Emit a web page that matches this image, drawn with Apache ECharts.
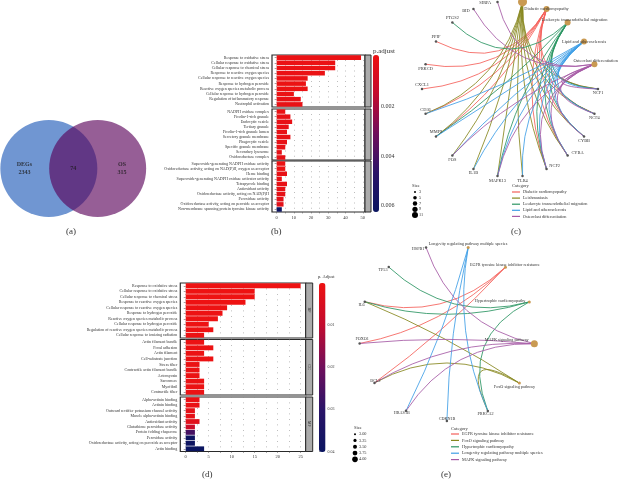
<!DOCTYPE html>
<html><head><meta charset="utf-8">
<style>html,body{margin:0;padding:0;background:#fff}#c{width:628px;height:481px}</style>
<script src="https://cdn.jsdelivr.net/npm/echarts@6/dist/echarts.min.js"></script>
</head><body><div id="c"></div>
<script>
// ---------- data ----------
const vennSets = ["DEGs", "OS"];
const vennCounts = [2343, 74, 315];

const bBPNames = ["Response to oxidative stress","Cellular response to oxidative stress","Cellular response to chemical stress","Response to reactive oxygen species","Cellular response to reactive oxygen species","Response to hydrogen peroxide","Reactive oxygen species metabolic process","Cellular response to hydrogen peroxide","Regulation of inflammatory response","Neutrophil activation"];
const bBPCounts = [49,34,34,28,18,17,18,10,14,15];
const bBPPadj = [0.0001,0.0001,0.0001,0.0001,0.0001,0.0001,0.0001,0.0001,0.0002,0.0002];
const bCCNames = ["NADPH oxidase complex","Ficolin-1-rich granule","Endocytic vesicle","Tertiary granule","Ficolin-1-rich granule lumen","Secretory granule membrane","Phagocytic vesicle","Specific granule membrane","Secondary lysosome","Oxidoreductase complex"];
const bCCCounts = [5,8,9,7,6,8,6,5,3,5];
const bCCPadj = [0.0001,0.0002,0.0002,0.0002,0.0002,0.0002,0.0002,0.0002,0.0003,0.0003];
const bMFNames = ["Superoxide-generating NADPH oxidase activity","Oxidoreductase activity, acting on NAD(P)H, oxygen as acceptor","Heme binding","Superoxide-generating NADPH oxidase activator activity","Tetrapyrrole binding","Antioxidant activity","Oxidoreductase activity, acting on NAD(P)H","Peroxidase activity","Oxidoreductase activity, acting on peroxide as acceptor","Non-membrane spanning protein tyrosine kinase activity"];
const bMFCounts = [5,5,6,3,6,5,5,4,4,3];
const bMFPadj = [0.0001,0.0001,0.0002,0.0002,0.0002,0.0003,0.0003,0.0004,0.0004,0.0062];
const bAdjTicks = [0.002,0.004,0.006];
const bCountTicks = [0,10,20,30,40,50];

const dBPNames = ["Response to oxidative stress","Cellular response to oxidative stress","Cellular response to chemical stress","Response to reactive oxygen species","Cellular response to reactive oxygen species","Response to hydrogen peroxide","Reactive oxygen species metabolic process","Cellular response to hydrogen peroxide","Regulation of reactive oxygen species metabolic process","Cellular response to ionizing radiation"];
const dBPCounts = [25,15,15,13,9,8,7,5,6,4];
const dBPPadj = [0.0001,0.0001,0.0001,0.0001,0.0002,0.0002,0.0002,0.0003,0.0003,0.0004];
const dCCNames = ["Actin filament bundle","Focal adhesion","Actin filament","Cell-substrate junction","Stress fiber","Contractile actin filament bundle","Actomyosin","Sarcomere","Myofibril","Contractile fiber"];
const dCCCounts = [4,6,4,6,3,3,3,4,4,4];
const dCCPadj = [0.0005,0.0005,0.0005,0.0005,0.0006,0.0006,0.0006,0.0006,0.0006,0.0006];
const dMFNames = ["Alpha-actinin binding","Actinin binding","Outward rectifier potassium channel activity","Muscle alpha-actinin binding","Antioxidant activity","Glutathione peroxidase activity","Protein folding chaperone","Peroxidase activity","Oxidoreductase activity, acting on peroxide as acceptor","Actin binding"];
const dMFCounts = [3,3,2,2,3,2,2,2,2,4];
const dMFPadj = [0.001,0.001,0.002,0.002,0.003,0.008,0.026,0.039,0.039,0.04];
const dAdjTicks = [0.01,0.02,0.03,0.04];
const dCountTicks = [0,5,10,15,20,25];

// network (c): nodes in clockwise order starting at the east point
const cNodes = ["NCF1","NCF4","CYBB","CYBA","NCF2","TLR4","MAPK13","IL1B","FOS","MMP9","CD36","CXCL1","PRKCD","PPIF","PTGS2","BID","SIRPA","Leishmaniasis","Diabetic cardiomyopathy","Leukocyte transendothelial migration","Lipid and atherosclerosis","Osteoclast differentiation"];
const cTerms = ["Diabetic cardiomyopathy","Leishmaniasis","Leukocyte transendothelial migration","Lipid and atherosclerosis","Osteoclast differentiation"];
const cEdges = [
  ["PPIF","PRKCD","CXCL1","CD36","MMP9","NCF1","NCF2","CYBA","CYBB","NCF4"],
  ["FOS","IL1B","MAPK13","TLR4","NCF1","NCF2","NCF4","CYBA","CYBB","MMP9","CD36"],
  ["PTGS2","MMP9","MAPK13","NCF1","NCF2","NCF4","CYBA","CYBB"],
  ["CD36","MMP9","FOS","IL1B","MAPK13","TLR4","NCF1","NCF2","NCF4","CYBA","CYBB"],
  ["SIRPA","BID","FOS","MAPK13","NCF1","NCF2","NCF4","CYBA","CYBB"]
];
const cSizeLabels = ["3","5","7","9","11"];

// network (e)
const eNodes = ["MAPK signaling pathway","FoxO signaling pathway","PRKCA2","CDKN1B","HRAS1B","BCL2","FOXO1","IL6","TP53","HSPB1","Longevity regulating pathway multiple species","EGFR tyrosine kinase inhibitor resistance","Hypertrophic cardiomyopathy"];
const eTerms = ["EGFR tyrosine kinase inhibitor resistance","FoxO signaling pathway","Hypertrophic cardiomyopathy","Longevity regulating pathway multiple species","MAPK signaling pathway"];
const eEdges = [
  ["IL6","FOXO1","BCL2"],
  ["IL6","BCL2","PRKCA2"],
  ["TP53","IL6","PRKCA2"],
  ["HRAS1B","CDKN1B","PRKCA2"],
  ["HSPB1","FOXO1","BCL2","HRAS1B"]
];
const eSizeLabels = ["3.00","3.25","3.50","3.75","4.00"];

// ---------- styles ----------
const SERIF = '"Liberation Serif", serif';
const TXT = '#333';
const cats = ['#f4605a','#87871f','#2c9563','#3f9fe6','#a65aa6'];
const cNodeSize = {"Leishmaniasis":9,"Diabetic cardiomyopathy":6,"Leukocyte transendothelial migration":6,"Lipid and atherosclerosis":6,"Osteoclast differentiation":6};
const eNodeSize = {"MAPK signaling pathway":7,"FoxO signaling pathway":3,"Longevity regulating pathway multiple species":3,"EGFR tyrosine kinase inhibitor resistance":3,"Hypertrophic cardiomyopathy":3};
const cLabelPos = {"NCF1":'bottom',"NCF4":'bottom',"CYBB":'bottom',"CYBA":[5,-3],"NCF2":[4,-4],"TLR4":'bottom',"MAPK13":'bottom',"IL1B":'bottom',"FOS":'bottom',"MMP9":'top',"CD36":'top',"CXCL1":'top',"PRKCD":'bottom',"PPIF":'top',"PTGS2":'top',"BID":[-10,1],"SIRPA":[-17,0],"Leishmaniasis":'top',"Diabetic cardiomyopathy":'inside',"Leukocyte transendothelial migration":[-23,-2],"Lipid and atherosclerosis":'inside',"Osteoclast differentiation":[-18,-2]};
const eLabelPos = {"MAPK signaling pathway":[-46,-2],"FoxO signaling pathway":[-24,3],"PRKCA2":[-9,2],"CDKN1B":[-7,-3],"HRAS1B":[-11,1],"BCL2":[-3,-3],"FOXO1":[-3,-5],"IL6":[-5,2],"TP53":[-9,2],"HSPB1":[-13,1],"Longevity regulating pathway multiple species":[-38,-4],"EGFR tyrosine kinase inhibitor resistance":[-34,-3],"Hypertrophic cardiomyopathy":[-53,-2]};

const grid=[],xAxis=[],yAxis=[],series=[],polar=[],angleAxis=[],radiusAxis=[],title=[],graphic=[],visualMap=[],legend=[];
function text(t,x,y,size,extra){title.push({text:t,left:x,top:y,padding:0,textStyle:Object.assign({fontFamily:SERIF,fontSize:size,fontWeight:'normal',color:TXT,lineHeight:size+1},extra||{})});}

// ---------- Venn (a) ----------
grid.push({left:0,width:146.5,top:120,height:97});
xAxis.push({show:false,min:-3,max:3,gridIndex:0});
yAxis.push({show:false,min:-1,max:1,gridIndex:0});
series.push({type:'scatter',xAxisIndex:0,yAxisIndex:0,silent:true,symbolSize:97,data:[[-1,0]],itemStyle:{color:'rgb(112,150,210)',opacity:1},z:1});
series.push({type:'scatter',xAxisIndex:0,yAxisIndex:0,silent:true,symbolSize:97,data:[[1,0]],itemStyle:{color:'rgb(88,0,88)',opacity:0.63},z:2});
series.push({type:'scatter',xAxisIndex:0,yAxisIndex:0,silent:true,symbolSize:0,z:3,
  data:[
    {value:[-2,0],label:{formatter:vennSets[0]+'\n'+vennCounts[0]}},
    {value:[0,0],label:{formatter:String(vennCounts[1])}},
    {value:[2,0],label:{formatter:vennSets[1]+'\n'+vennCounts[2]}}],
  label:{show:true,position:'inside',fontFamily:SERIF,fontSize:6,fontWeight:'bold',lineHeight:8,color:'#1c1c1c'}});

// ---------- bar facets ----------
function addFacet(names,counts,padj,g,last,opt){
  const i=grid.length;
  grid.push({left:g.l,width:g.w,top:g.t,height:g.h,show:true,borderColor:'#2a2a2a',borderWidth:1.2,backgroundColor:'#fff',z:3});
  xAxis.push({gridIndex:i,type:'value',min:opt.min,max:opt.max,z:4,
    axisLine:{show:false},
    axisTick:{show:true,length:last?1.5:0,lineStyle:{color:'#555',width:.5},customValues:opt.dots},
    axisLabel:{show:last,fontFamily:SERIF,fontSize:4.5,color:TXT,margin:3,customValues:opt.ticks},
    splitLine:{show:true,lineStyle:{color:'#8a8a8a',width:.7,type:[.8,opt.gap]}}});
  yAxis.push({gridIndex:i,type:'category',inverse:true,data:names,z:4,
    axisLine:{show:false},axisTick:{show:true,length:2,alignWithLabel:true,lineStyle:{color:'#444',width:.5}},
    axisLabel:{interval:0,fontFamily:SERIF,fontSize:4,color:TXT,margin:3},splitLine:{show:false}});
  series.push({type:'bar',xAxisIndex:i,yAxisIndex:i,silent:true,barWidth:'88%',z:5,
    encode:{x:0,y:1},data:names.map((n,k)=>[counts[k],n,padj[k]])});
  graphic.push({type:'rect',shape:{x:g.l+g.w,y:g.t,width:opt.strip,height:g.h},style:{fill:'#ababab',stroke:'#2a2a2a',lineWidth:1},z:10});
  return series.length-1;
}
const bDots=[0,5,10,15,20,25,30,35,40,45,50];
const bOpt={min:-2.7,max:51.3,ticks:bCountTicks,dots:bDots,gap:4.4,strip:6};
const bIdx=[
  addFacet(bBPNames,bBPCounts,bBPPadj,{l:272,w:93,t:55,h:52},false,bOpt),
  addFacet(bCCNames,bCCCounts,bCCPadj,{l:272,w:93,t:109,h:51},false,bOpt),
  addFacet(bMFNames,bMFCounts,bMFPadj,{l:272,w:93,t:161,h:51},true,bOpt)];
const dDots=[0,2.5,5,7.5,10,12.5,15,17.5,20,22.5,25];
const dOpt={min:-1.18,max:26.1,ticks:dCountTicks,dots:dDots,gap:4.7,strip:7};
const dIdx=[
  addFacet(dBPNames,dBPCounts,dBPPadj,{l:180.3,w:125.4,t:283,h:55},false,dOpt),
  addFacet(dCCNames,dCCCounts,dCCPadj,{l:180.3,w:125.4,t:339.5,h:55.5},false,dOpt),
  addFacet(dMFNames,dMFCounts,dMFPadj,{l:180.3,w:125.4,t:397,h:54.5},true,dOpt)];
["BP","CC","MF"].forEach((s,k)=>{
  graphic.push({type:'text',x:309,y:[310,367,424][k],rotation:-Math.PI/2,z:11,style:{text:s,fill:'#222',font:'4px '+SERIF,textAlign:'center',textVerticalAlign:'middle'}});
});

// colour bars
function colorBar(idx,bar,max,ticks,fs,digits){
  visualMap.push({type:'continuous',seriesIndex:idx,dimension:2,min:bar.vmin,max:bar.vmax,inverse:true,calculable:false,hoverLink:false,
    left:bar.l,top:bar.t,itemWidth:bar.w,itemHeight:bar.h,padding:0,text:null,borderRadius:0,
    inRange:{color:['#ee1212','#c20b2e','#6f0f5c','#2a1468','#0b1560']},textStyle:{fontSize:1,color:'transparent'}});
  const i=grid.length;
  grid.push({left:bar.l,width:bar.w,top:bar.at,height:bar.ah});
  xAxis.push({gridIndex:i,show:false,min:0,max:1});
  yAxis.push({gridIndex:i,type:'value',inverse:true,position:'right',min:0,max:max,
    axisLine:{show:false},axisTick:{show:true,length:2,lineStyle:{color:'#333',width:.5},customValues:ticks},
    axisLabel:{fontFamily:SERIF,fontSize:fs,color:TXT,margin:2,customValues:ticks,formatter:v=>v.toFixed(digits)},splitLine:{show:false}});
}
colorBar(bIdx,{vmin:0,vmax:0.0063,l:373,t:55,w:6,h:157,at:57,ah:155},0.00625,bAdjTicks,6,3);
colorBar(dIdx,{vmin:0,vmax:0.04,l:319,t:283,w:6.5,h:169,at:283,ah:168.5},0.04,dAdjTicks,4,2);

// ---------- networks ----------
function curve(s,t,N){ // bends toward the centre of the circle
  const d=(t-s+N)%N, k=0.8;
  return d<=N/2 ? -k/(2*Math.tan(Math.PI*d/N)) : k/(2*Math.tan(Math.PI*(N-d)/N));
}
function addNet(nodes,terms,edges,sizes,pos,p,geneSize,fs){
  const i=polar.length,N=nodes.length;
  polar.push({center:[p.x,p.y],radius:[0,p.r]});
  angleAxis.push({polarIndex:i,show:false,type:'value',min:0,max:N,startAngle:p.start,clockwise:true});
  radiusAxis.push({polarIndex:i,show:false,type:'value',min:0,max:1});
  const links=[];
  terms.forEach((term,c)=>{
    const s=nodes.indexOf(term);
    edges[c].forEach(g=>{
      const t=nodes.indexOf(g);
      links.push({source:s,target:t,lineStyle:{color:cats[c],width:1,opacity:.85,curveness:curve(s,t,N)}});
    });
  });
  series.push({type:'graph',coordinateSystem:'polar',polarIndex:i,silent:true,animation:false,legendHoverLink:false,z:6,
    categories:terms.map((n,c)=>({name:n,itemStyle:{color:cats[c]}})),
    data:nodes.map((n,k)=>{
      const isTerm=terms.includes(n), lp=pos[n];
      return {name:n,value:[1,k],category:isTerm?terms.indexOf(n):undefined,
        symbolSize:isTerm?sizes[n]:geneSize,
        itemStyle:{color:isTerm?'#c99a52':'#555',opacity:1},
        label:{position:lp,distance:1}};
    }),
    links:links,
    label:{show:true,fontFamily:SERIF,fontSize:fs,color:TXT},
    lineStyle:{curveness:0.3}});
  return terms;
}
addNet(cNodes,cTerms,cEdges,cNodeSize,cLabelPos,{x:510,y:89,r:88,start:0},2.5,4.4);
addNet(eNodes,eTerms,eEdges,eNodeSize,eLabelPos,{x:447,y:333,r:88,start:-7},2.5,4.2);

function addLegend(terms,x,y,gap){
  legend.push({data:terms,left:x,top:y,orient:'vertical',padding:0,selectedMode:false,icon:'rect',
    itemWidth:8,itemHeight:1.2,itemGap:gap,textStyle:{fontFamily:SERIF,fontSize:4.3,color:TXT,padding:[0,0,0,-2]}});
}
addLegend(cTerms,512,190,2.1);
addLegend(eTerms,451,432,2.4);

function sizeLegend(labels,sizes,g){
  const i=grid.length;
  grid.push({left:g.l,width:6,top:g.t,height:g.h});
  xAxis.push({gridIndex:i,show:false,min:0,max:1});
  yAxis.push({gridIndex:i,type:'category',data:labels,inverse:true,position:'right',axisLine:{show:false},axisTick:{show:false},
    axisLabel:{interval:0,fontFamily:SERIF,fontSize:4.3,color:TXT,margin:1},splitLine:{show:false}});
  series.push({type:'scatter',xAxisIndex:i,yAxisIndex:i,silent:true,itemStyle:{color:'#000',opacity:1},
    symbolSize:(v,p)=>sizes[p.dataIndex],data:labels.map(l=>[0.5,l])});
}
sizeLegend(cSizeLabels,[2,3.6,4.4,5.2,6],{l:412,t:189,h:29});
sizeLegend(eSizeLabels,[2,3.2,4,4.8,5.6],{l:352,t:431,h:31.5});

// ---------- texts ----------
text('(a)',66,227,9); text('(b)',271,227,9); text('(c)',511,227,9); text('(d)',202,470,9); text('(e)',441,470,9);
text('p.adjust',373,47,7); text('p. Adjust',318,274.5,4.5);
text('Size',412,182.5,4.6); text('Category',512,182.5,4.6);
text('Size',354,424.5,4.6); text('Category',451,425.5,4.6);

const chart=echarts.init(document.getElementById('c'),null,{renderer:'canvas'});
chart.setOption({animation:false,backgroundColor:'#fff',grid,xAxis,yAxis,polar,angleAxis,radiusAxis,series,title,graphic,visualMap,legend,tooltip:{show:false}});
</script></body></html>
